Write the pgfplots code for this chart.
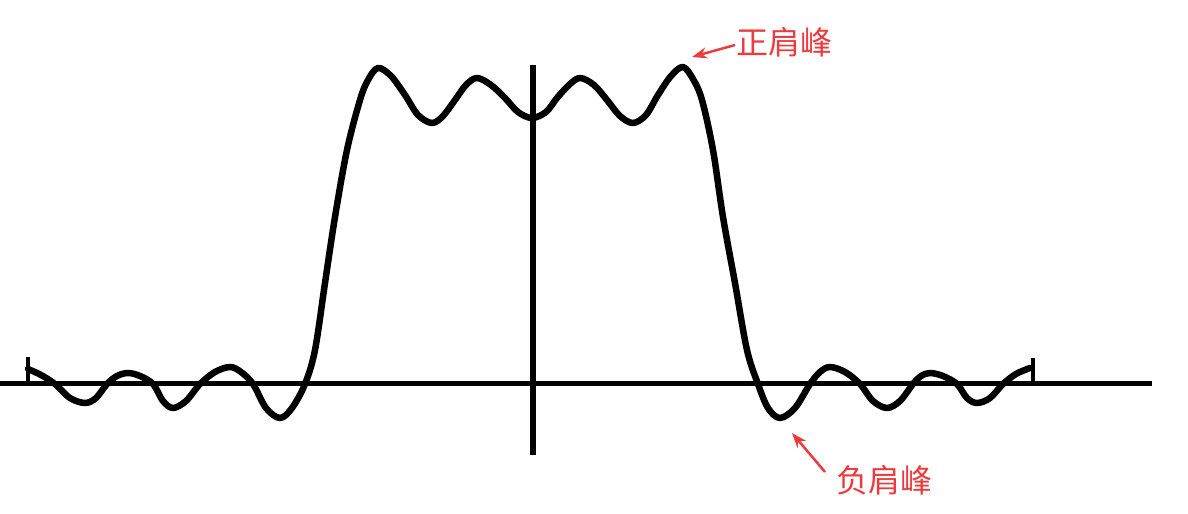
\documentclass[border=0pt]{standalone}
\usepackage{pgfplots}
\pgfplotsset{compat=1.18}
\usepackage{fontspec}
\newfontfamily\cjk{Noto Sans CJK SC}
\usetikzlibrary{arrows.meta}
\definecolor{lblred}{RGB}{238,58,60}
\begin{document}
\begin{tikzpicture}
\useasboundingbox (0,0) rectangle (1188bp,514bp);
\begin{axis}[width=1188bp, height=514bp, scale only axis,
  xmin=0, xmax=1188, ymin=-130, ymax=384, hide axis, clip=false]
% axes
\addplot[black, line width=5bp] coordinates {(0,0) (1152,0)};
\addplot[black, line width=5.5bp] coordinates {(533,-71) (533,319)};
\addplot[black, line width=4bp] coordinates {(28,0) (28,27)};
\addplot[black, line width=4bp] coordinates {(1033,0) (1033,26)};
% curve
\addplot[black, line width=6.5bp, smooth, tension=0.55, line join=round, line cap=round] coordinates {
(28,15) (41,9) (55,0) (70,-14) (85,-19) (96,-14) (107,0) (117,8) (128,11) (140,8)
(153,0) (163,-17) (173,-24) (186,-17) (200,0) (215,12) (230,17) (241,12)
(253,0) (266,-24) (280,-34) (292,-24) (305,0) (315,34) (325,101) (335,167) (347,234)
(360,284) (368,304) (378,316) (391,308) (405,289) (418,269) (432,261) (443,268) (455,284) (466,299) (477,306)
(491,299) (505,286) (518,272) (532,266)
(546,272) (557,286) (569,299) (580,306) (594,299) (607,284) (620,268) (633,261) (646,269) (658,289) (671,308)
(683,317) (693,305) (702,284) (713,234)
(723,167) (735,101) (747,34)
(758,0) (768,-24) (780,-34) (795,-24) (810,0) (820,12) (830,17) (845,12) (860,0) (873,-17) (887,-24) (900,-17)
(913,0) (921,8) (930,11) (943,8)
(957,0) (967,-14) (977,-19) (990,-14) (1003,0) (1016,10) (1030,16)};
% labels
\node[lblred, font=\cjk\fontsize{32bp}{32bp}\selectfont, anchor=west] at (axis cs:733,342) {正肩峰};
\node[lblred, font=\cjk\fontsize{32bp}{32bp}\selectfont, anchor=west] at (axis cs:833,-96) {负肩峰};
\draw[lblred, line width=2.5bp, -{Stealth[length=15bp,width=11bp]}] (axis cs:735,339) -- (axis cs:692,327);
\draw[lblred, line width=2.5bp, -{Stealth[length=15bp,width=11bp]}] (axis cs:825,-88) -- (axis cs:792,-49);
\end{axis}
\end{tikzpicture}
\end{document}
